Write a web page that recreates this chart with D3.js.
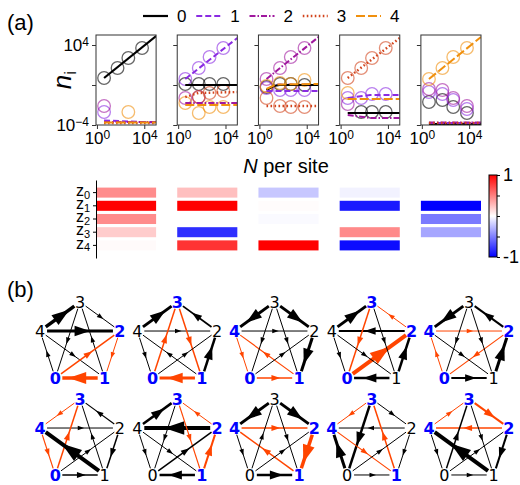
<!DOCTYPE html>
<html>
<head>
<meta charset="utf-8">
<script src="https://cdn.jsdelivr.net/npm/d3@7"></script>
<style>
  body { margin: 0; background: #fff; }
  svg { display: block; }
</style>
</head>
<body>
<div id="chart"></div>
<script>
// ---------- data: panel (a), n_i vs N ----------
const species = ['0', '1', '2', '3', '4'];
const nPerSite = [4, 55, 450, 6500];
// log10(n_i) of the circles, [panel][species][point]; null = below the axis
const circleLog = [
    [[0.7, 1.7, 2.7, 3.7], [-2.7, null, null, null], [-2.1, null, null, null], [null, null, null, null], [null, null, -2.7, null]],
    [[0.1, 0.1, 0.1, 0.1], [0.6, 1.7, 2.8, 3.7], [-1.3, -1.2, null, null], [null, -1.2, -0.8, -0.6], [-1.8, -2.8, -2.2, -2.2]],
    [[-0.2, 0.1, 0.1, 0.0], [-0.3, -0.5, -0.5, -0.5], [0.6, 1.7, 2.8, 3.7], [-1.3, -2.1, -2.2, -2.2], [-0.1, 0.2, 0.1, 0.5]],
    [[null, -2.7, -2.7, -2.7], [-1.3, -1.3, -0.9, -0.9], [-1.9, null, null, null], [0.7, 1.7, 2.7, 3.7], [-0.8, null, null, null]],
    [[-1.7, -1.5, -2.2, -2.8], [-0.7, -0.9, -1.5, -2.4], [-0.4, -0.5, -1.3, -2.1], [null, null, null, null], [0.6, 1.7, 2.8, 3.7]]
];
// fitted lines, [panel][species] = list of [log10 N, log10 n_i]
const fitLog = [
    [[[0.6, 0.7], [5, 4.9]], [[0.6, -3.55], [5, -3.75]], [[0.6, -3.7], [5, -3.7]], [[0.6, -3.8], [5, -3.8]], [[0.6, -3.75], [5, -3.75]]],
    [[[0.6, 0.0], [5, 0.0]], [[0.6, 0.6], [5, 4.7]], [[0.6, -1.8], [5, -1.8]], [[0.6, -1.2], [1.7, -0.8], [5, -0.7]], [[0.6, -2.0], [5, -2.0]]],
    [[[0.6, -0.5], [1.2, -0.1], [1.7, 0.0], [5, 0.0]], [[0.6, -0.6], [5, -0.6]], [[0.6, 0.6], [5, 4.8]], [[0.6, -2.1], [5, -2.1]], [[0.6, -0.4], [1.4, 0.05], [5, 0.1]]],
    [[[0.6, -2.8], [5, -2.8]], [[0.6, -1.3], [2.5, -1.0], [5, -1.0]], [[0.6, -3.0], [2.5, -3.3], [5, -3.3]], [[0.6, 0.7], [5, 4.7]], [[0.6, -1.4], [5, -1.4]]],
    [[[0.6, -3.9], [5, -3.9]], [[0.6, -3.8], [5, -3.8]], [[0.6, -3.75], [5, -3.75]], [[0.6, -3.8], [5, -3.8]], [[0.6, 0.6], [5, 4.8]]]
];

// ---------- data: z heatmap ----------
const zRows = ['0', '1', '2', '3', '4'];
const zValues = [
    [0.45, 1.0, 0.45, 0.2, 0.02],
    [0.25, 1.0, 0.0, -0.82, 0.8],
    [-0.22, 0.01, -0.02, 0.0, 1.0],
    [-0.05, -0.9, 0.0, 0.46, -0.95],
    [0.0, -1.0, -0.52, -0.35, 0.0]
];
const cbarTicks = [-1, -0.5, 0, 0.5, 1];

// ---------- data: panel (b), networks ----------
const ringOrder = [3, 2, 1, 0, 4];
const netBlue = [[0, 1, 2], [0, 1, 3], [0, 1, 4], [0, 2, 3], [0, 2, 4],
                 [0, 3, 4], [1, 2, 3], [1, 2, 4], [1, 3, 4], [2, 3, 4]];
// [from, to, weight]
const netEdges = [
    [[4, 3, 3.5], [3, 2, 1], [4, 2, 3], [0, 4, 1], [4, 1, 1], [3, 0, 1], [1, 3, 1], [0, 2, 1.5], [2, 1, 1], [1, 0, 3.5]],
    [[4, 3, 3], [2, 3, 1.8], [4, 2, 1], [4, 0, 1], [1, 4, 1], [0, 3, 1.5], [3, 1, 1.5], [0, 2, 1], [1, 2, 2.5], [1, 0, 3]],
    [[3, 4, 3], [3, 2, 3], [4, 2, 1], [2, 1, 3], [4, 0, 1], [1, 4, 1.2], [0, 1, 1.5], [3, 0, 1], [3, 1, 1], [0, 2, 1]],
    [[4, 3, 3], [2, 3, 1], [2, 4, 2], [3, 0, 1.5], [0, 2, 4], [1, 2, 2.5], [4, 1, 1], [4, 0, 1], [3, 1, 1], [1, 0, 2.5]],
    [[3, 4, 3], [2, 3, 2], [4, 2, 1], [0, 4, 1], [2, 0, 1.2], [1, 2, 3], [0, 1, 2], [4, 1, 1], [3, 0, 1], [3, 1, 1]],
    [[3, 4, 1], [2, 3, 1.2], [4, 2, 1], [4, 0, 1.2], [0, 3, 1.5], [1, 4, 4], [2, 1, 1.5], [0, 2, 1], [1, 3, 1], [0, 1, 1.5]],
    [[4, 3, 2.5], [2, 3, 1], [2, 4, 4], [3, 1, 1.2], [1, 2, 2], [1, 0, 2.5], [0, 2, 1.5], [4, 0, 1], [4, 1, 1], [3, 0, 1]],
    [[3, 4, 3], [3, 2, 3], [4, 2, 1.5], [2, 1, 3.5], [1, 4, 1.5], [0, 1, 2.5], [0, 2, 1], [0, 3, 1], [3, 1, 1], [4, 0, 1]],
    [[3, 4, 1], [3, 2, 1], [2, 4, 1], [3, 0, 2.5], [0, 4, 3], [1, 3, 1.5], [4, 1, 1.2], [0, 2, 1], [2, 1, 1], [0, 1, 1]],
    [[4, 3, 1], [3, 2, 2], [2, 4, 1.5], [1, 4, 4], [0, 3, 1.5], [2, 1, 2], [0, 1, 1], [0, 2, 1], [4, 0, 1], [3, 1, 1]]
];

// ---------- styles ----------
const W = 520, H = 485;
const speciesColor = ['#000000', '#8a2be2', '#a0189e', '#d2441c', '#f0900e'];
const speciesDash = [null, '6,3', '6,2,1.5,2', '1.6,2.4', '9,3'];
const speciesWidth = [2.2, 2, 2, 2.4, 2];
const axisColor = '#333';

const svg = d3.select('#chart').append('svg')
    .attr('width', W).attr('height', H)
    .style('font-family', '"Liberation Sans", Arial, sans-serif');

function powLabel(text, exp, supSize) {
    text.text('');
    text.append('tspan').text('10');
    text.append('tspan').attr('dy', '-0.45em').attr('font-size', supSize).text(exp);
}

// panel letters
svg.append('text').attr('x', 7).attr('y', 30).attr('font-size', 22).text('(a)');
svg.append('text').attr('x', 7).attr('y', 297).attr('font-size', 22).text('(b)');

// ---------- legend ----------
const legX = d3.scaleLinear().domain([0, 4]).range([143, 356]);
species.forEach((s, i) => {
    svg.append('line')
        .attr('x1', legX(i)).attr('x2', legX(i) + 25)
        .attr('y1', 16).attr('y2', 16)
        .attr('stroke', speciesColor[i])
        .attr('stroke-width', speciesWidth[i])
        .attr('stroke-dasharray', speciesDash[i]);
    svg.append('text').attr('x', legX(i) + 34).attr('y', 22)
        .attr('font-size', 17).text(s);
});

// ---------- top row of log-log panels ----------
const colBand = d3.scaleBand().domain(d3.range(5)).range([96, 481]).paddingInner(0.26);
const bw = colBand.bandwidth();
const yN = d3.scaleLog().domain([1e-4, 1e5]).range([125, 35]);
const xN = d3.scaleLog().domain([Math.pow(10, -0.08), 1e5]).range([0, bw]);
const fitLine = d3.line().x((d) => xN(Math.pow(10, d[0]))).y((d) => yN(Math.pow(10, d[1])));

svg.append('clipPath').attr('id', 'plotclip')
    .append('rect').attr('x', 0).attr('y', 35).attr('width', bw).attr('height', 90);

d3.range(5).forEach((p) => {
    const g = svg.append('g').attr('transform', `translate(${colBand(p)},0)`);
    const plot = g.append('g').attr('clip-path', 'url(#plotclip)');

    species.forEach((s, i) => {
        circleLog[p][i].forEach((v, j) => {
            if (v === null) return;
            plot.append('circle')
                .attr('cx', xN(nPerSite[j]))
                .attr('cy', yN(Math.pow(10, v)))
                .attr('r', 6.3)
                .attr('fill', 'none')
                .attr('stroke', speciesColor[i])
                .attr('stroke-opacity', 0.6)
                .attr('stroke-width', 1.3);
        });
    });
    species.forEach((s, i) => {
        plot.append('path')
            .attr('d', fitLine(fitLog[p][i]))
            .attr('fill', 'none')
            .attr('stroke', speciesColor[i])
            .attr('stroke-width', speciesWidth[i])
            .attr('stroke-dasharray', speciesDash[i]);
    });

    const xa = g.append('g').attr('transform', 'translate(0,125)')
        .call(d3.axisBottom(xN).tickValues([1, 1e4]).tickSize(4).tickSizeOuter(0));
    xa.select('.domain').remove();
    xa.selectAll('line').attr('stroke', axisColor);
    xa.selectAll('text').attr('font-size', 17).attr('font-family', null).attr('fill', '#000')
        .each(function (d) { powLabel(d3.select(this), d === 1 ? '0' : '4', 12); });

    const ya = g.append('g')
        .call(d3.axisLeft(yN).tickValues([1e-4, 1, 1e4]).tickSize(4).tickSizeOuter(0));
    ya.select('.domain').remove();
    ya.selectAll('line').attr('stroke', axisColor);
    ya.selectAll('text').attr('font-size', 17).attr('font-family', null).attr('fill', '#000')
        .each(function (d) {
            const t = d3.select(this);
            if (p !== 0 || d === 1) { t.remove(); return; }
            powLabel(t, d === 1e4 ? '4' : '\u22124', 12);
        });

    g.append('rect').attr('x', 0).attr('y', 35).attr('width', bw).attr('height', 90)
        .attr('fill', 'none').attr('stroke', axisColor).attr('stroke-width', 1);
});

// axis titles
const ni = svg.append('text').attr('transform', 'translate(71,80) rotate(-90)')
    .attr('text-anchor', 'middle').attr('font-size', 26);
ni.append('tspan').attr('font-style', 'italic').text('n');
ni.append('tspan').attr('font-size', 17).attr('dy', '0.3em').text('i');

const nps = svg.append('text').attr('x', 286).attr('y', 173)
    .attr('text-anchor', 'middle').attr('font-size', 20);
nps.append('tspan').attr('font-style', 'italic').text('N');
nps.append('tspan').text(' per site');

// ---------- heatmap ----------
const zBand = d3.scaleBand().domain(zRows).range([180, 258]).paddingInner(0.24).paddingOuter(0.575);
const zColor = d3.scaleLinear().domain([-1, 0, 1]).range(['#0000ff', '#ffffff', '#ff0000']);

d3.range(5).forEach((c) => {
    svg.append('g').selectAll('rect').data(zValues[c]).join('rect')
        .attr('x', colBand(c))
        .attr('y', (d, r) => zBand(zRows[r]))
        .attr('width', bw)
        .attr('height', zBand.bandwidth())
        .attr('fill', (d) => zColor(d));
});

const za = svg.append('g').attr('transform', 'translate(96,0)')
    .call(d3.axisLeft(zBand).tickSize(3).tickSizeOuter(0));
za.selectAll('.domain, line').attr('stroke', '#000');
za.selectAll('text').attr('font-size', 16).attr('font-family', null).attr('fill', '#000')
    .attr('dy', '0.2em')
    .each(function (d) {
        const t = d3.select(this);
        t.text('');
        t.append('tspan').text('z');
        t.append('tspan').attr('font-size', 11).attr('dy', '0.25em').text(d);
    });

// colorbar
const cbY = d3.scaleLinear().domain([-1, 1]).range([257, 175]);
const grad = svg.append('defs').append('linearGradient').attr('id', 'bwr')
    .attr('x1', 0).attr('x2', 0).attr('y1', 1).attr('y2', 0);
cbarTicks.forEach((v) => {
    grad.append('stop').attr('offset', (v + 1) / 2).attr('stop-color', zColor(v));
});
svg.append('rect').attr('x', 489).attr('y', cbY(1)).attr('width', 8)
    .attr('height', cbY(-1) - cbY(1))
    .attr('fill', 'url(#bwr)').attr('stroke', '#000').attr('stroke-width', 1);
const ca = svg.append('g').attr('transform', 'translate(497,0)')
    .call(d3.axisRight(cbY).tickValues(cbarTicks).tickSize(3).tickSizeOuter(0)
        .tickFormat((d) => (Math.abs(d) === 1 ? (d > 0 ? '1' : '-1') : '')));
ca.select('.domain').remove();
ca.selectAll('line').attr('stroke', '#000');
ca.selectAll('text').attr('font-size', 18).attr('font-family', null).attr('fill', '#000');

// ---------- networks ----------
const ringAngle = d3.scalePoint().domain(ringOrder).range([0, (2 * Math.PI * 4) / 5]);
const R = 42;
const netX = d3.scaleLinear().domain([0, 4]).range([80, 469]);
const netY = d3.scaleLinear().domain([0, 1]).range([344, 441]);
const orange = '#ff4500';
const nodePos = (n) => d3.pointRadial(ringAngle(n), R);

netEdges.forEach((edges, k) => {
    const g = svg.append('g')
        .attr('transform', `translate(${netX(k % 5)},${netY(Math.floor(k / 5))})`);
    const blue = netBlue[k];

    edges.forEach(([a, b, w]) => {
        const p1 = nodePos(a), p2 = nodePos(b);
        const dx = p2[0] - p1[0], dy = p2[1] - p1[1];
        const L = Math.hypot(dx, dy), ux = dx / L, uy = dy / L;
        const col = blue.includes(a) && blue.includes(b) ? orange : '#000';
        const s = 7;
        g.append('line')
            .attr('x1', p1[0] + ux * s).attr('y1', p1[1] + uy * s)
            .attr('x2', p2[0] - ux * s).attr('y2', p2[1] - uy * s)
            .attr('stroke', col).attr('stroke-width', w);
        const len = 2 + 4.5 * w, hw = 0.8 + 1.5 * w;
        const mx = (p1[0] + p2[0]) / 2, my = (p1[1] + p2[1]) / 2;
        const tip = [mx + ux * len * 0.65, my + uy * len * 0.65];
        const base = [mx - ux * len * 0.35, my - uy * len * 0.35];
        g.append('path')
            .attr('d', `M${tip[0]},${tip[1]}L${base[0] - uy * hw},${base[1] + ux * hw}` +
                `L${base[0] + uy * hw},${base[1] - ux * hw}Z`)
            .attr('fill', col);
    });

    ringOrder.forEach((n) => {
        const p = nodePos(n);
        const isBlue = blue.includes(n);
        g.append('text')
            .attr('x', p[0]).attr('y', p[1]).attr('dy', '0.36em')
            .attr('text-anchor', 'middle')
            .attr('font-family', '"DejaVu Sans", sans-serif')
            .attr('font-size', 16)
            .attr('font-weight', isBlue ? 'bold' : 'normal')
            .attr('fill', isBlue ? '#0000ff' : '#000')
            .text(n);
    });
});
</script>
</body>
</html>
